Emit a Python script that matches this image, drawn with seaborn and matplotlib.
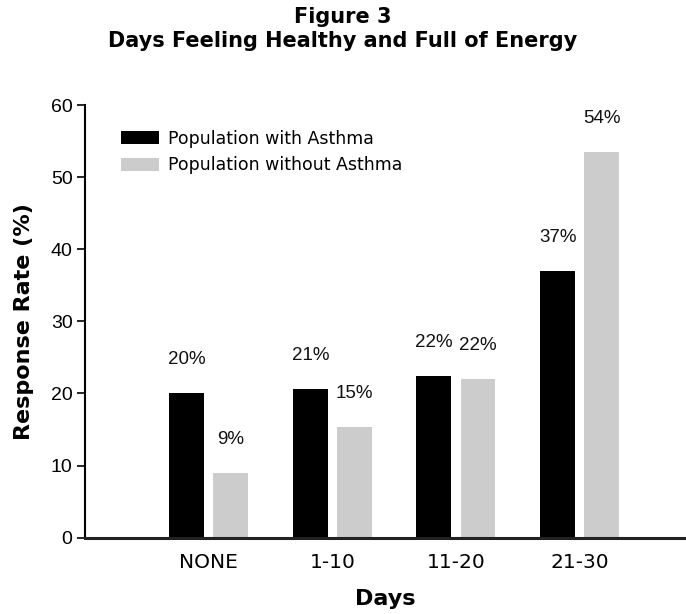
import pandas as pd
import seaborn as sns
import matplotlib.pyplot as plt

days = ["NONE", "1-10", "11-20", "21-30"]
groups = ["Population with Asthma", "Population without Asthma"]
with_asthma = [20.0, 20.6, 22.4, 37.0]
without_asthma = [9.0, 15.4, 22.0, 53.5]
with_labels = ["20%", "21%", "22%", "37%"]
without_labels = ["9%", "15%", "22%", "54%"]
colors = ["#000000", "#cccccc"]

df = pd.DataFrame({
    "days": days * 2,
    "rate": with_asthma + without_asthma,
    "group": [groups[0]] * 4 + [groups[1]] * 4,
})

sns.set_style("white")
plt.rcParams["text.color"] = "#000000"
plt.rcParams["xtick.color"] = "#000000"
plt.rcParams["ytick.color"] = "#000000"
plt.rcParams["axes.labelcolor"] = "#000000"
narrow = ["Liberation Sans", "DejaVu Sans"]
plain = ["DejaVu Sans"]

fig = plt.figure(figsize=(6.86, 6.14), dpi=100)
ax = fig.add_axes([85 / 686, 1 - 537.7 / 614, (686 - 85) / 686, (537.7 - 105) / 614])

sns.barplot(data=df, x="days", y="rate", hue="group", order=days, hue_order=groups,
            palette=colors, saturation=1, width=0.712, gap=0.205, linewidth=0,
            ax=ax)

# percentage labels above each bar
for cont, labs in zip(ax.containers, [with_labels, without_labels]):
    ax.bar_label(cont, labels=labs, padding=18, fontsize=13.5, family=narrow, color="#111111")

# leave an empty slot left of the first group, as in the original
ax.set_xlim(-1, 3.86)
ax.set_ylim(0, 60)
ax.set_yticks(range(0, 61, 10))

sns.despine(ax=ax, top=True, right=True)
ax.spines["left"].set_linewidth(1.5)
ax.spines["left"].set_color("#000000")
ax.spines["bottom"].set_linewidth(2.2)
ax.spines["bottom"].set_color("#222222")

ax.tick_params(axis="y", direction="out", length=6, width=1.2, color="#000000", pad=3, left=True)
ax.tick_params(axis="x", length=0, pad=11)
for t in ax.get_yticklabels():
    t.set_fontfamily(narrow)
    t.set_fontsize(14)
for t in ax.get_xticklabels():
    t.set_fontfamily(plain)
    t.set_fontsize(14.5)

ax.set_xlabel("Days", fontsize=16, fontweight="bold", labelpad=12, family=plain)
ax.set_ylabel("Response Rate (%)", fontsize=16, fontweight="bold", labelpad=12, family=plain)

ax.legend(loc="upper left", bbox_to_anchor=(0.06, 0.943), frameon=False, fontsize=12.5,
          handlelength=2.2, handleheight=0.8, handletextpad=0.5, labelspacing=0.5,
          borderpad=0, borderaxespad=0)

fig.text(0.5, 1 - 7 / 614, "Figure 3\nDays Feeling Healthy and Full of Energy",
         ha="center", va="top", fontsize=15, fontweight="bold", linespacing=1.25,
         family=plain)

fig.savefig("out.png", dpi=100)
